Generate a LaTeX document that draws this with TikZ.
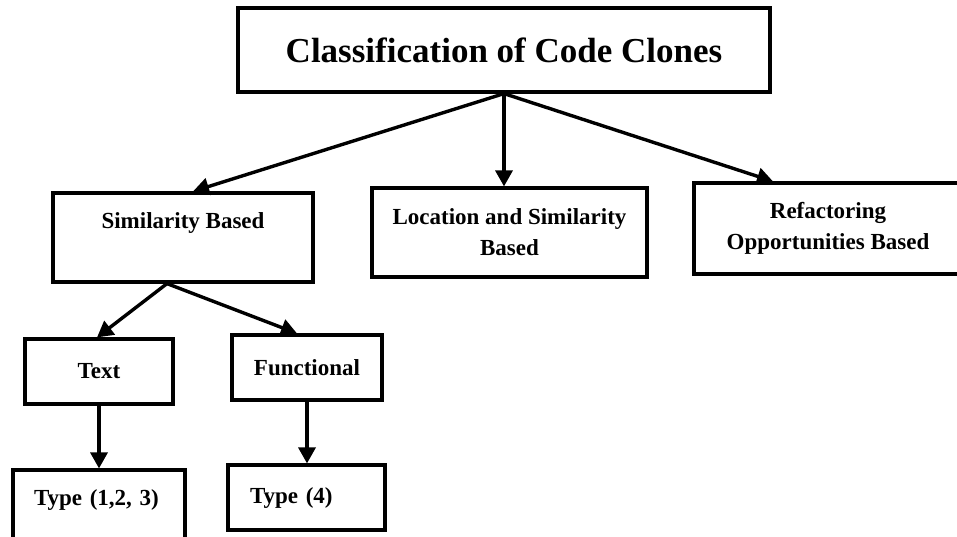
\documentclass[tikz,border=0pt]{standalone}
\usepackage{fontspec}
\setmainfont{Liberation Serif}
\usetikzlibrary{arrows.meta}

\begin{document}
\begin{tikzpicture}[x=1pt, y=-1pt,
    box/.style={draw, line width=3.2pt, inner sep=0, align=center,
        font=\fontsize{23}{31}\selectfont\bfseries},
    arr/.style={line width=3.4pt, -{Triangle[length=16pt, width=17pt]}}]

    \useasboundingbox (0,0) rectangle (957,537);

    % Root
    \node[box, minimum width=532pt, minimum height=84pt,
    font=\fontsize{35}{40}\selectfont\bfseries] (root) at (504, 50) {Classification of Code Clones};

    % Categories
    \node[box, minimum width=260pt, minimum height=89pt,
    text height=36pt, text depth=53pt] (sim) at (183, 237.5) {Similarity Based};
    \node[box, minimum width=275pt, minimum height=89pt] (loc) at (509.5, 232.5) {Location and Similarity\\Based};
    \node[box, minimum width=268pt, minimum height=91pt] (ref) at (828, 228.5) {Refactoring\\Opportunities Based};

    % Similarity based
    \node[box, minimum width=148pt, minimum height=65pt] (txt) at (99, 371.5) {Text};
    \node[box, minimum width=150pt, minimum height=65pt] (func) at (307, 367.5) {Functional};

    % Types
    \node[box, align=left, text width=130pt, inner xsep=21pt,
    text height=35.5pt, text depth=39.5pt] (t123) at (99, 507.5) {Type (1,2, 3)};
    \node[box, align=left, text width=113pt, inner xsep=22pt,
    minimum height=65pt] (t4) at (306.5, 497.5) {Type (4)};

    % Arrows
    \draw[arr] (root.south) -- ([xshift=10pt]sim.north);
    \draw[arr] (root.south) -- (root.south |- loc.north);
    \draw[arr] (root.south) -- ([xshift=-55pt]ref.north);
    \draw[arr] ([xshift=-16pt]sim.south) -- ([xshift=-2pt]txt.north);
    \draw[arr] ([xshift=-16pt]sim.south) -- ([xshift=-10pt]func.north);
    \draw[arr] (txt.south) -- (txt.south |- t123.north);
    \draw[arr] (func.south) -- (func.south |- t4.north);

\end{tikzpicture}
\end{document}
